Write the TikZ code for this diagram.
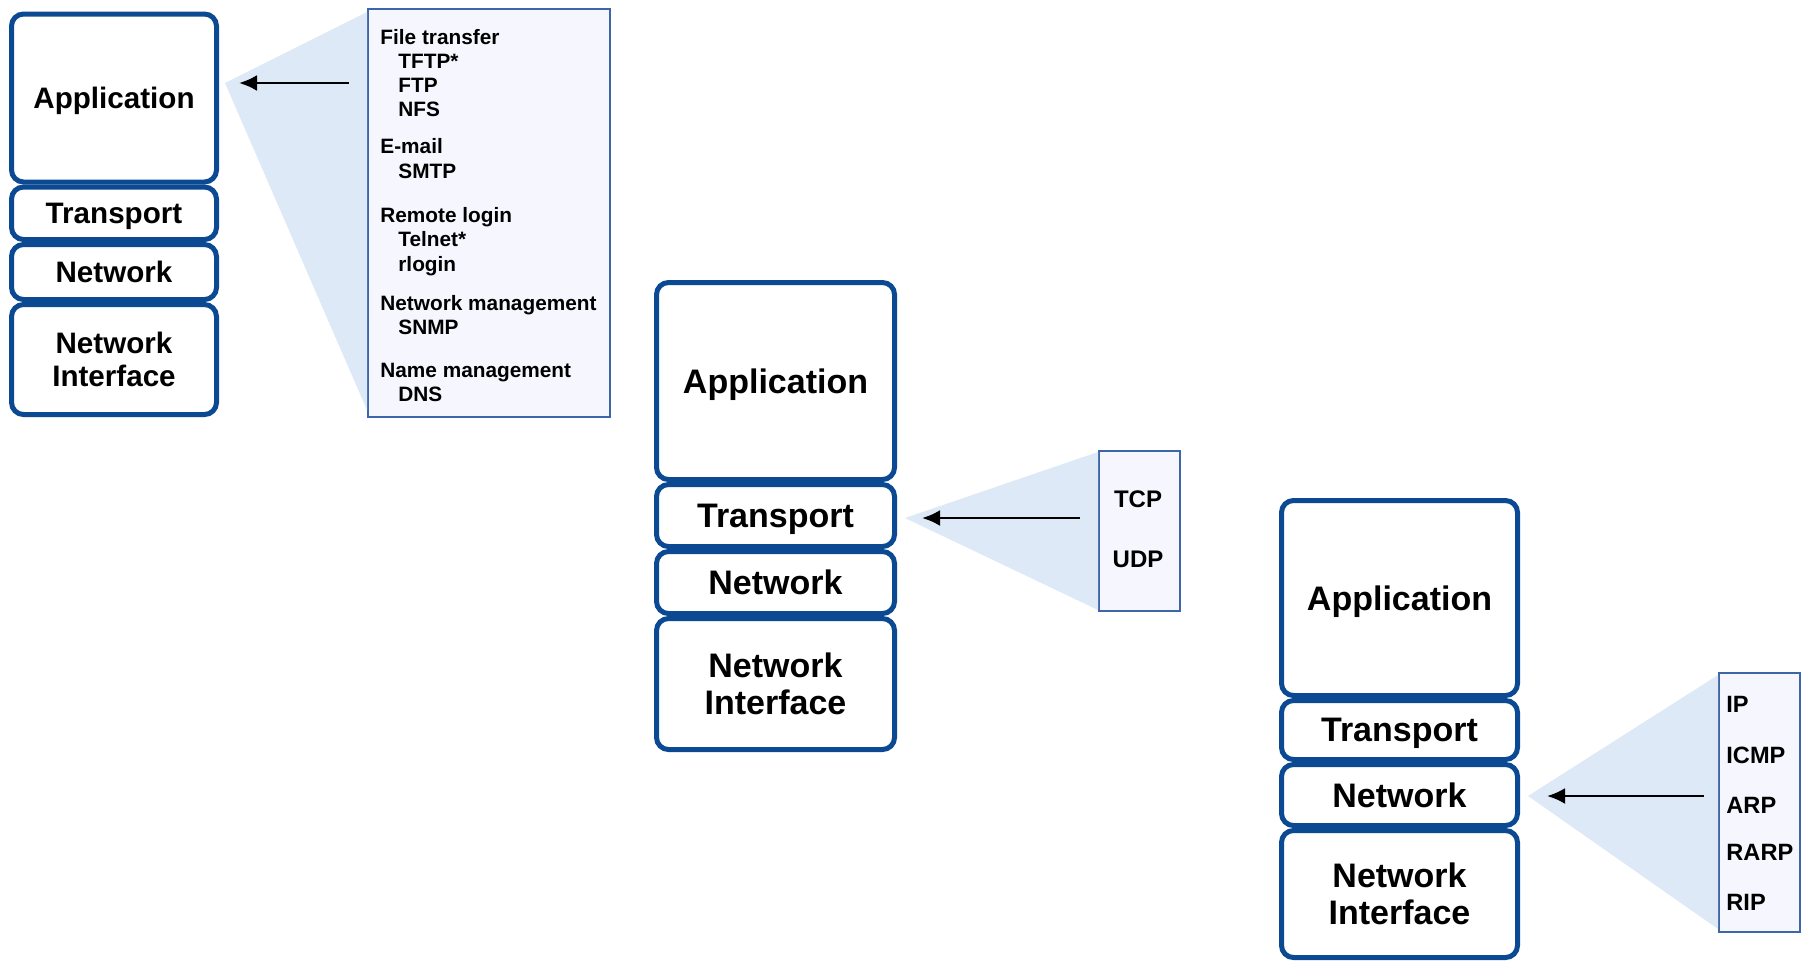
\documentclass[tikz,border=0pt]{standalone}
\usepackage{fontspec}
\setmainfont{Liberation Sans}
\usetikzlibrary{positioning,arrows.meta}
\definecolor{layerblue}{HTML}{0B4A92}
\definecolor{conefill}{HTML}{DDE9F6}
\definecolor{listfill}{HTML}{F6F7FE}
\definecolor{listline}{HTML}{3C66A8}

\begin{document}
\begin{tikzpicture}[x=0.5pt, y=-0.5pt,
	layer/.style={draw=layerblue, line width=2.5pt, rounded corners=6pt, fill=white, align=center, inner sep=0pt, font=\bfseries},
	one/.style={text depth=0pt},
	small/.style={minimum width=102.5pt, font=\bfseries\fontsize{14.8}{16.7}\selectfont},
	big/.style={font=\bfseries\fontsize{17}{18.5}\selectfont},
	listbox/.style={draw=listline, line width=1pt, fill=listfill, inner sep=0pt},
	item/.style={inner sep=0pt, anchor=base west, font=\bfseries},
	ptr/.style={-{Latex[length=9pt, width=8pt]}, line width=1.3pt}]
	\useasboundingbox (0,0) rectangle (1808,964);

	% cones behind the stacks
	\node[listbox, minimum width=121pt, minimum height=204pt, anchor=north west] (proto1) at (367,8) {};
	\node[listbox, minimum width=40.5pt, minimum height=80pt, anchor=north west] (proto2) at (1098,450) {};
	\node[listbox, minimum width=40.5pt, minimum height=129.5pt, anchor=north west] (proto3) at (1718,672) {};
	\coordinate (cone1) at (225,83);
	\coordinate (cone2) at (905,518);
	\coordinate (cone3) at (1528,796);
	\fill[conefill] (cone1) -- ([yshift=-2pt]proto1.north west) -- ([yshift=4pt]proto1.south west) -- cycle;
	\fill[conefill] (cone2) -- ([yshift=-1pt]proto2.north west) -- ([yshift=1pt]proto2.south west) -- cycle;
	\fill[conefill] (cone3) -- ([yshift=-1.5pt]proto3.north west) -- ([yshift=2pt]proto3.south west) -- cycle;

	% stack 1
	\node[layer, small, one, minimum height=84pt, anchor=north west] (app1) at (9,11.5) {Application};
	\node[layer, small, one, minimum height=26.25pt, below=0pt of app1] (trn1) {Transport};
	\node[layer, small, one, minimum height=27.5pt, below=0pt of trn1] (net1) {Network};
	\node[layer, small, minimum height=55pt, below=0pt of net1] (nif1) {Network\\Interface};

	% stack 2
	\node[layer, big, one, minimum width=119pt, minimum height=98.5pt, anchor=north west] (app2) at (654,280) {Application};
	\node[layer, big, one, minimum width=119pt, minimum height=31pt, below=0pt of app2] (trn2) {Transport};
	\node[layer, big, one, minimum width=119pt, minimum height=31pt, below=0pt of trn2] (net2) {Network};
	\node[layer, big, minimum width=119pt, minimum height=65.5pt, below=0pt of net2] (nif2) {Network\\Interface};

	% stack 3
	\node[layer, big, one, minimum width=118pt, minimum height=97.5pt, anchor=north west] (app3) at (1279,498) {Application};
	\node[layer, big, one, minimum width=118pt, minimum height=29.5pt, below=0pt of app3] (trn3) {Transport};
	\node[layer, big, one, minimum width=118pt, minimum height=30.5pt, below=0pt of trn3] (net3) {Network};
	\node[layer, big, minimum width=118pt, minimum height=63.5pt, below=0pt of net3] (nif3) {Network\\Interface};

	% protocol lists
	\foreach \ty/\tx/\tl [count=\i] in {44/380/File transfer, 68/398/TFTP*, 92/398/FTP, 116.5/398/NFS,
		153.5/380/E-mail, 178/398/SMTP, 222.5/380/Remote login, 246/398/Telnet*, 271/398/rlogin,
		310/380/Network management, 334.5/398/SNMP, 377/380/Name management, 401.5/398/DNS}
		\node[item, font=\bfseries\fontsize{10.4}{12}\selectfont] (pa\i) at (\tx,\ty) {\tl};
	\foreach \ty/\tl [count=\i] in {507/TCP, 567/UDP}
		\node[inner sep=0pt, anchor=base, font=\bfseries\fontsize{12}{14}\selectfont] (pt\i) at (1138,\ty) {\tl};
	\foreach \ty/\tl [count=\i] in {712/IP, 763/ICMP, 813/ARP, 860/RARP, 910/RIP}
		\node[item, font=\bfseries\fontsize{11.8}{14}\selectfont] (pn\i) at (1726,\ty) {\tl};

	% pointers
	\draw[ptr] ([xshift=-9pt]proto1.west |- cone1) -- ([xshift=7pt]cone1);
	\draw[ptr] ([xshift=-9pt]proto2.west |- cone2) -- ([xshift=8.5pt]cone2);
	\draw[ptr] ([xshift=-7pt]proto3.west |- cone3) -- ([xshift=9.5pt]cone3);
\end{tikzpicture}
\end{document}
